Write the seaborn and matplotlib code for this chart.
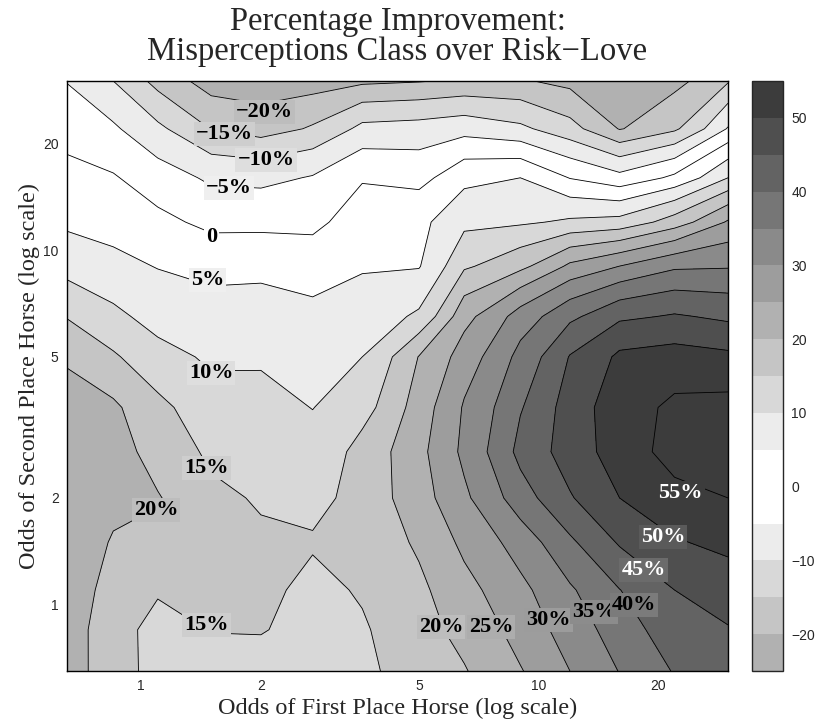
import numpy as np
import matplotlib
matplotlib.use("Agg")
import matplotlib.pyplot as plt
from matplotlib.colors import ListedColormap, BoundaryNorm
from matplotlib.cm import ScalarMappable
from matplotlib.ticker import NullLocator
import seaborn as sns

# grid of odds (log spaced), both axes
odds_first = [0.65, 0.85, 1.1, 1.5, 2, 2.7, 3.6, 5, 6.5, 9, 12, 16, 22, 30]
odds_second = [0.65, 0.85, 1.1, 1.5, 2, 2.7, 3.6, 5, 6.5, 9, 12, 16, 22, 30]

# percentage improvement, one row per second-place odds (bottom -> top)
improvement = [
    [22.0, 17.3, 13.0, 13.0, 12.5, 12.0, 14.2, 17.0, 19.7, 24.7, 30.0, 35.2, 40.4, 43.0],
    [22.5, 16.6, 13.5, 15.2, 15.4, 12.5, 14.5, 18.4, 21.5, 27.0, 32.4, 37.5, 43.2, 44.7],
    [23.0, 17.8, 15.5, 16.5, 16.0, 13.8, 15.5, 19.0, 23.5, 28.8, 34.4, 39.9, 45.0, 47.5],
    [23.5, 19.5, 19.0, 17.0, 15.7, 15.5, 16.8, 20.8, 26.2, 32.3, 39.2, 45.6, 49.6, 51.3],
    [23.5, 21.7, 20.3, 16.0, 14.5, 13.4, 17.1, 23.0, 29.1, 37.9, 44.6, 50.0, 53.6, 55.0],
    [23.0, 22.0, 18.0, 14.0, 12.9, 11.6, 16.8, 23.7, 31.2, 41.5, 47.5, 52.5, 57.0, 57.0],
    [21.5, 20.8, 16.2, 11.8, 11.4, 9.9, 13.0, 22.5, 30.5, 39.6, 47.5, 53.0, 56.0, 56.5],
    [19.5, 15.6, 11.6, 9.2, 9.4, 7.8, 10.0, 20.2, 27.3, 36.6, 45.3, 51.0, 51.9, 51.0],
    [14.7, 11.1, 8.1, 7.0, 7.2, 6.2, 7.5, 10.8, 23.4, 32.3, 38.9, 44.1, 45.5, 44.0],
    [8.0, 6.3, 4.8, 3.5, 3.7, 2.8, 4.5, 4.7, 14.3, 18.7, 26.1, 30.1, 34.2, 34.6],
    [4.1, 3.1, 1.2, -1.3, -1.3, -1.3, 3.0, 3.8, 8.7, 9.3, 10.8, 11.7, 17.4, 25.6],
    [1.4, 0.4, -2.7, -5.9, -6.3, -4.6, -0.5, -1.6, 3.6, 5.0, -0.2, -3.4, 1.1, 10.0],
    [-1.8, -4.3, -9.0, -15.2, -17.2, -14.4, -8.6, -8.0, -6.9, -9.0, -13.3, -20.3, -15.9, -4.6],
    [-5.2, -10.0, -16.8, -22.5, -23.0, -22.5, -21.0, -20.3, -19.3, -19.5, -21.5, -23.0, -21.5, -15.5],
]

levels = list(range(-25, 60, 5))
line_levels = list(range(-20, 60, 5))
axis_ticks = [1, 2, 5, 10, 20]
cbar_ticks = [-20, -10, 0, 10, 20, 30, 40, 50]

# inline contour labels (level, odds first, odds second)
label_levels = [-20, -15, -10, -5, 0, 5, 10, 15, 20, 15, 20, 25, 30, 35, 40, 45, 50, 55]
label_x = [2.04, 1.62, 2.06, 1.66, 1.50, 1.47, 1.50, 1.46, 1.09, 1.46, 5.68, 7.60, 10.6, 13.8, 17.4, 18.4, 20.6, 22.8]
label_y = [24.6, 21.3, 18.0, 15.0, 10.9, 8.24, 4.51, 2.43, 1.85, 0.879, 0.867, 0.867, 0.908, 0.956, 1.0, 1.25, 1.55, 2.06]

sns.set_style("ticks")
plt.rcParams['font.family'] = ['Liberation Sans', 'DejaVu Sans']
serif = ['Liberation Serif', 'DejaVu Serif']

# grey shades: white at 0, darker with |value|
grays = sns.blend_palette(["#ffffff", "#3c3c3c"], n_colors=11)
band_colors = []
for lo in levels[:-1]:
    idx = lo // 5 if lo >= 0 else (-(lo + 5)) // 5
    band_colors.append(grays[idx])
cmap = ListedColormap(band_colors)
cmap.set_over(grays[10])
cmap.set_under(grays[5])
norm = BoundaryNorm(levels, cmap.N)

X, Y = np.meshgrid(odds_first, odds_second)
Z = np.array(improvement)

fig = plt.figure(figsize=(8.17, 7.25), dpi=100)
ax = fig.add_axes([67 / 817, 1 - 671 / 725, (728 - 67) / 817, (671 - 81) / 725])
ax.set_xscale('log')
ax.set_yscale('log')

ax.contourf(X, Y, Z, levels=levels, cmap=cmap, norm=norm, extend='both')
ax.contour(X, Y, Z, levels=line_levels, colors='k', linewidths=0.6, linestyles='solid')

for v, lx, ly in zip(label_levels, label_x, label_y):
    txt = "0" if v == 0 else (f"{v}%").replace("-", "\u2212")
    box = grays[10] if v >= 55 else ((255 - abs(v) * 3.3) / 255,) * 3
    ax.text(lx, ly, txt, ha='center', va='center', fontsize=16, fontweight='bold',
            family=serif, color='white' if v >= 45 else 'black', zorder=5,
            bbox=dict(facecolor=box, edgecolor='none', pad=1.5))

ax.set_xlim(0.65, 30)
ax.set_ylim(0.65, 30)
ax.set_xticks(axis_ticks)
ax.set_xticklabels([str(t) for t in axis_ticks])
ax.set_yticks(axis_ticks)
ax.set_yticklabels([str(t) for t in axis_ticks])
ax.xaxis.set_minor_locator(NullLocator())
ax.yaxis.set_minor_locator(NullLocator())
ax.tick_params(direction='in', top=True, right=True, length=5, width=0.7, labelsize=10, pad=6)
for s in ax.spines.values():
    s.set_linewidth(1.0)
    s.set_color('k')

ax.set_title("Percentage Improvement:\nMisperceptions Class over Risk\u2212Love",
             fontsize=23.5, family=serif, pad=15, linespacing=1.0)
ax.set_xlabel("Odds of First Place Horse (log scale)", fontsize=17.5, family=serif, labelpad=3)
ax.set_ylabel("Odds of Second Place Horse (log scale)", fontsize=17.5, family=serif, labelpad=2)

cax = fig.add_axes([752 / 817, 1 - 671 / 725, 31 / 817, (671 - 81) / 725])
cb = fig.colorbar(ScalarMappable(norm=norm, cmap=cmap), cax=cax, ticks=cbar_ticks)
cb.outline.set_linewidth(1.0)
cax.tick_params(direction='in', length=5, width=0.7, left=True, right=True, labelsize=10, pad=6)
cax.minorticks_off()

fig.savefig("out.png", dpi=100)
